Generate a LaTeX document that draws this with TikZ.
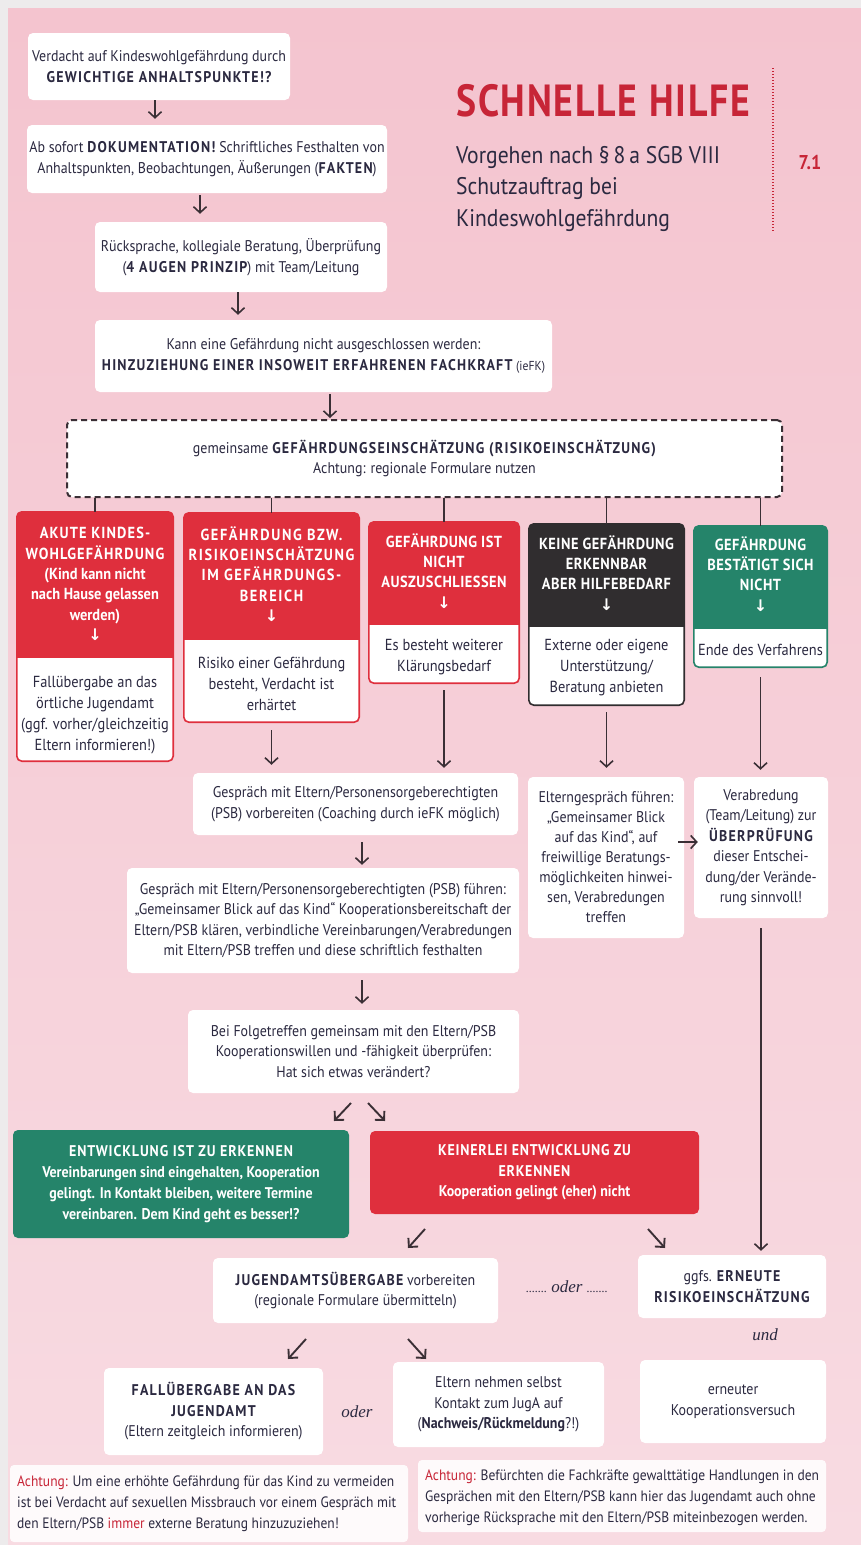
\documentclass[tikz,border=0pt]{standalone}
\usepackage{fontspec}
\setmainfont{PT Sans}[FakeStretch=0.9]
\newfontfamily\titfont{PT Sans}[FakeStretch=0.84]
\newfontfamily\dvs{DejaVu Sans}
\newfontfamily\srf{Liberation Serif}
\usetikzlibrary{arrows.meta,fit}
\definecolor{txt}{HTML}{2B2940}
\definecolor{arrc}{HTML}{3A2F35}
\definecolor{boxred}{HTML}{DF2F3D}
\definecolor{boxgreen}{HTML}{25846A}
\definecolor{boxdark}{HTML}{302D2F}
\definecolor{titred}{HTML}{C72537}
\definecolor{pinkA}{HTML}{F4C4CF}
\definecolor{pinkB}{HTML}{F8DBE2}
\definecolor{bggray}{HTML}{EDEBEC}
\newcommand\bc[1]{{\bfseries\addfontfeature{LetterSpace=8}#1}}
\newcommand\ls[2]{{\addfontfeature{LetterSpace=#1}#2}}
\newcommand\fs{\fontsize{15.5}{20.5}\selectfont}
\newcommand\dar{{\dvs\fontsize{16}{16}\selectfont\char"2193}}
\tikzset{
  wbox/.style={fill=white, rounded corners=5pt, inner sep=0pt, align=center, text=txt, font=\fs},
  arr/.style={draw=arrc, line width=1.6pt, -{Straight Barb[length=6pt,width=13pt]}},
  darr/.style={draw=arrc, line width=1.9pt, -{Straight Barb[length=6.5pt,width=13pt]}},
  ln/.style={draw=arrc, line width=1.6pt},
  ctitle/.style={text=white, align=center, font=\fontsize{16}{20.3}\selectfont\bfseries, inner sep=0pt},
  cbody/.style={text=txt, align=center, font=\fontsize{16}{21}\selectfont, inner sep=0pt},
  conn/.style={font=\srf\itshape\fontsize{17}{17}\selectfont, text=txt, inner sep=0pt},
  note/.style={fill=white, fill opacity=0.88, text opacity=1, rounded corners=4pt, inner sep=0pt},
  notetext/.style={anchor=west, align=left, text=txt, font=\fontsize{15}{21}\selectfont, inner sep=0pt}
}
% white box: [options]{name}{x1}{y1}{x2}{y2}{text}
\newcommand\wb[7][]{%
  \pgfmathsetmacro\cx{(#3+#5)/2}\pgfmathsetmacro\cy{(#4+#6)/2}%
  \pgfmathsetmacro\ww{#5-#3}\pgfmathsetmacro\hh{#6-#4}%
  \node[wbox, minimum width=\ww pt, minimum height=\hh pt, #1] (#2) at (\cx,\cy) {#7};%
}
\newcommand\cbx[7]{% name x1 y1 x2 y2 ysplit color
  \node[fit={(#2,#3)(#4,#5)}, inner sep=0pt, fill=white, rounded corners=5pt] (#1) {};
  \begin{scope}
    \clip[rounded corners=5pt] (#1.north west) rectangle (#1.south east);
    \fill[#7] (#1.north west) rectangle (#1.east |- 0,#6);
  \end{scope}
  \draw[#7, line width=1.6pt, rounded corners=5pt] (#1.north west) rectangle (#1.south east);
}
\begin{document}
\begin{tikzpicture}[x=1pt,y=-1pt]
\useasboundingbox (0,0) rectangle (861,1545);
\fill[bggray] (0,0) rectangle (861,1545);
\shade[top color=pinkA, bottom color=pinkB] (8,8) rectangle (861,1545);

% header
\node[anchor=base west, font=\titfont\fontsize{45}{45}\selectfont\bfseries\addfontfeature{LetterSpace=4}, text=titred, inner sep=0pt] (title) at (456,116) {SCHNELLE HILFE};
\node[anchor=north west, align=left, font=\fontsize{24}{31.5}\selectfont, text=txt, inner sep=0pt] (sub) at (456,146) {Vorgehen nach §\,8\,a SGB VIII\\Schutzauftrag bei\\Kindeswohlgefährdung};
\draw[titred, line width=1.3pt, dash pattern=on 1.3pt off 1.7pt] (773,68) -- (773,232);
\node[font=\fontsize{20}{20}\selectfont\bfseries, text=titred, inner sep=0pt] (num) at (810,162) {7.1};

% top chain
\wb{b1}{28}{33}{290}{100}{Verdacht auf Kindeswohlgefährdung durch\\\bc{GEWICHTIGE ANHALTSPUNKTE!?}}
\wb{b2}{27}{125}{387}{193}{Ab sofort \bc{DOKUMENTATION!} Schriftliches Festhalten von\\Anhaltspunkten, Beobachtungen, Äußerungen (\bc{FAKTEN})}
\wb{b3}{95}{222}{387}{292}{Rücksprache, kollegiale Beratung, Überprüfung\\(\bc{4 AUGEN PRINZIP}) mit Team/Leitung}
\wb{b4}{95}{320}{552}{392}{Kann eine Gefährdung nicht ausgeschlossen werden:\\\bc{HINZUZIEHUNG EINER INSOWEIT ERFAHRENEN FACHKRAFT} {\fontsize{13}{13}\selectfont(ieFK)}}
\wb[draw=arrc, line width=2pt, dash pattern=on 6pt off 4pt]{dash}{67}{420}{782}{497}{gemeinsame \bc{GEFÄHRDUNGSEINSCHÄTZUNG (RISIKOEINSCHÄTZUNG)}\\Achtung: regionale Formulare nutzen}

\draw[arr, shorten >=6pt] (b1.south -| 155,0) -- (b2.north -| 155,0);
\draw[arr, shorten <=2pt, shorten >=8pt] (b2.south -| 200,0) -- (b3.north -| 200,0);
\draw[arr, shorten >=5pt] (b3.south -| 238,0) -- (b4.north -| 238,0);
\draw[arr, shorten <=2pt, shorten >=1pt] (b4.south -| 330,0) -- (dash.north -| 330,0);

% coloured boxes
\cbx{c1}{17}{512}{173}{761}{658}{boxred}
\cbx{c2}{184}{513}{359}{722}{640}{boxred}
\cbx{c3}{369}{522}{519}{683}{625}{boxred}
\cbx{c4}{529}{524}{684}{705}{627}{boxdark}
\cbx{c5}{694}{526}{827}{667}{629}{boxgreen}

\node[ctitle] (c1t) at (95,584) {\ls{7}{AKUTE KINDES-}\\\ls{7}{WOHLGEFÄHRDUNG}\\(Kind kann nicht\\nach Hause gelassen\\werden)\\\dar};
\node[cbody] (c1b) at (95,715) {Fallübergabe an das\\örtliche Jugendamt\\(ggf. vorher/gleichzeitig\\Eltern informieren!)};
\node[ctitle] (c2t) at (271.5,574) {\ls{10}{GEFÄHRDUNG BZW.}\\\ls{10}{RISIKOEINSCHÄTZUNG}\\\ls{10}{IM GEFÄHRDUNGS-}\\\ls{10}{BEREICH}\\\dar};
\node[cbody] (c2b) at (271.5,684) {Risiko einer Gefährdung\\besteht, Verdacht ist\\erhärtet};
\node[ctitle] (c3t) at (444,571) {\ls{3}{GEFÄHRDUNG IST}\\\ls{3}{NICHT}\\\ls{3}{AUSZUSCHLIESSEN}\\\dar};
\node[cbody] (c3b) at (444,657) {Es besteht weiterer\\Klärungsbedarf};
\node[ctitle] (c4t) at (606.5,573) {\ls{3}{KEINE GEFÄHRDUNG}\\\ls{3}{ERKENNBAR}\\\ls{3}{ABER HILFEBEDARF}\\\dar};
\node[cbody] (c4b) at (606.5,668) {Externe oder eigene\\Unterstützung/\\Beratung anbieten};
\node[ctitle] (c5t) at (760.5,574) {\ls{3}{GEFÄHRDUNG}\\\ls{3}{BESTÄTIGT SICH}\\\ls{3}{NICHT}\\\dar};
\node[cbody] (c5b) at (760.5,650) {Ende des Verfahrens};

\draw[ln] (dash.south -| c1.north) -- (c1.north);
\draw[ln] (dash.south -| c2.north) -- (c2.north);
\draw[ln] (dash.south -| c3.north) -- (c3.north);
\draw[ln] (dash.south -| c4.north) -- (c4.north);
\draw[ln] (dash.south -| c5.north) -- (c5.north);

% middle section
\wb{d1}{193}{773}{518}{835}{Gespräch mit Eltern/Personensorgeberechtigten\\(PSB) vorbereiten (Coaching durch ieFK möglich)}
\wb{d2}{127}{868}{519}{973}{Gespräch mit Eltern/Personensorgeberechtigten (PSB) führen:\\„Gemeinsamer Blick auf das Kind“ Kooperationsbereitschaft der\\Eltern/PSB klären, verbindliche Vereinbarungen/Verabredungen\\mit Eltern/PSB treffen und diese schriftlich festhalten}
\wb{d3}{188}{1010}{519}{1093}{Bei Folgetreffen gemeinsam mit den Eltern/PSB\\Kooperationswillen und -fähigkeit überprüfen:\\Hat sich etwas verändert?}
\wb[font=\fontsize{15.5}{20}\selectfont]{e}{528}{777}{684}{938}{Elterngespräch führen:\\„Gemeinsamer Blick\\auf das Kind“, auf\\freiwillige Beratungs-\\möglichkeiten hinwei-\\sen, Verabredungen\\treffen}
\wb{f}{694}{777}{828}{918}{Verabredung\\(Team/Leitung) zur\\\bc{ÜBERPRÜFUNG}\\dieser Entschei-\\dung/der Verände-\\rung sinnvoll!}

\draw[arr, shorten <=8pt, shorten >=8pt] (c2.south) -- (d1.north -| c2.south);
\draw[arr, shorten <=7pt, shorten >=5pt] (c3.south) -- (d1.north -| c3.south);
\draw[arr, shorten <=7pt, shorten >=9pt] (c4.south) -- (e.north -| c4.south);
\draw[arr, shorten <=10pt, shorten >=7pt] (c5.south) -- (f.north -| c5.south);
\draw[arr, shorten <=7pt, shorten >=3pt] (d1.south -| 362,0) -- (d2.north -| 362,0);
\draw[arr, shorten <=7pt, shorten >=6pt] (d2.south -| 362,0) -- (d3.north -| 362,0);
\draw[arr] ([xshift=-6pt]e.east |- 0,842) -- ([xshift=4pt]f.west |- 0,842);

% results
\wb[fill=boxgreen, text=white, font=\fontsize{15.5}{21}\selectfont\bfseries]{g}{13}{1130}{349}{1238}{\ls{6}{ENTWICKLUNG IST ZU ERKENNEN}\\Vereinbarungen sind eingehalten, Kooperation\\gelingt. In Kontakt bleiben, weitere Termine\\vereinbaren. Dem Kind geht es besser!?}
\wb[fill=boxred, text=white, font=\fs\bfseries]{r}{370}{1131}{699}{1214}{\ls{5}{KEINERLEI ENTWICKLUNG ZU}\\\ls{5}{ERKENNEN}\\Kooperation gelingt (eher) nicht}

\coordinate (a1s) at (351,1103); \coordinate (a1e) at (334,1121);
\coordinate (a2s) at (368,1103); \coordinate (a2e) at (385,1121);
\draw[darr] (a1s) -- (a1e);
\draw[darr] (a2s) -- (a2e);

\wb{h1}{213}{1258}{498}{1323}{\bc{JUGENDAMTSÜBERGABE} vorbereiten\\(regionale Formulare übermitteln)}
\wb{h2}{638}{1255}{826}{1318}{ggfs. \bc{ERNEUTE}\\\bc{RISIKOEINSCHÄTZUNG}}
\node[conn] (oder1) at (567,1287) {{\fontsize{12}{12}\selectfont.......}\ oder\ {\fontsize{12}{12}\selectfont.......}};
\node[conn] (und) at (765,1335) {und};

\coordinate (a3s) at (425,1229); \coordinate (a3e) at (408,1248);
\coordinate (a4s) at (648,1229); \coordinate (a4e) at (665,1248);
\draw[darr] (a3s) -- (a3e);
\draw[darr] (a4s) -- (a4e);
\draw[arr, shorten <=10pt, shorten >=4pt] (f.south) -- (h2.north -| f.south);

\wb{i1}{104}{1368}{323}{1455}{\bc{FALLÜBERGABE AN DAS}\\\bc{JUGENDAMT}\\(Eltern zeitgleich informieren)}
\wb{i2}{393}{1362}{604}{1447}{Eltern nehmen selbst\\Kontakt zum JugA auf\\(\textbf{Nachweis/Rückmeldung}?!)}
\wb{i3}{640}{1360}{826}{1443}{erneuter\\Kooperationsversuch}
\node[conn] (oder2) at (357,1412) {oder};

\coordinate (a5s) at (306,1339); \coordinate (a5e) at (288,1359);
\coordinate (a6s) at (408,1339); \coordinate (a6e) at (426,1359);
\draw[darr] (a5s) -- (a5e);
\draw[darr] (a6s) -- (a6e);

% notes
\node[note, fit={(10,1465)(408,1542)}] (n1) {};
\node[notetext] (n1t) at (17,1504) {{\color{titred}Achtung:} Um eine erhöhte Gefährdung für das Kind zu vermeiden\\ist bei Verdacht auf sexuellen Missbrauch vor einem Gespräch mit\\den Eltern/PSB {\color{titred}immer} externe Beratung hinzuzuziehen!};
\node[note, fit={(418,1460)(826,1532)}] (n2) {};
\node[notetext] (n2t) at (425,1498) {{\color{titred}Achtung:} Befürchten die Fachkräfte gewalttätige Handlungen in den\\Gesprächen mit den Eltern/PSB kann hier das Jugendamt auch ohne\\vorherige Rücksprache mit den Eltern/PSB miteinbezogen werden.};
\end{tikzpicture}
\end{document}
